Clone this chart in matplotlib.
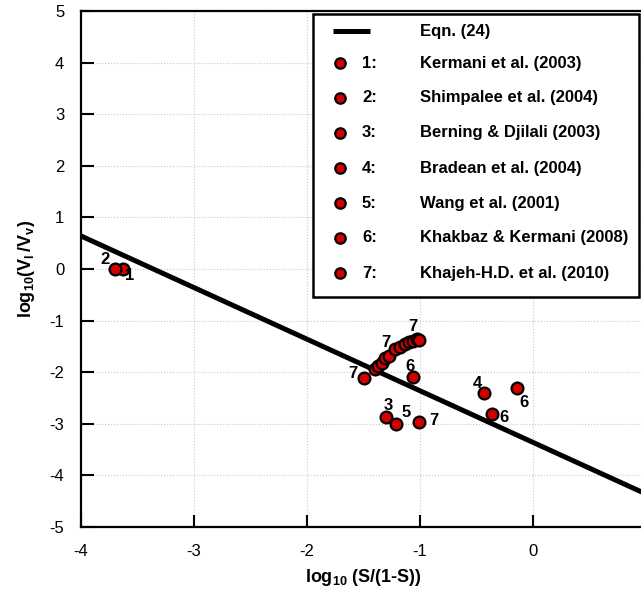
import matplotlib
matplotlib.use("Agg")
import matplotlib.pyplot as plt
from matplotlib.patches import Rectangle

plt.rcParams['font.family'] = ['Liberation Sans', 'DejaVu Sans']
plt.rcParams['mathtext.fontset'] = 'custom'
plt.rcParams['mathtext.rm'] = 'Liberation Sans'
plt.rcParams['mathtext.it'] = 'Liberation Sans:italic'
plt.rcParams['mathtext.bf'] = 'Liberation Sans:bold'
plt.rcParams['axes.unicode_minus'] = False

# Eqn. (24) line
eqn_x = [-4.0, 1.0]
eqn_y = [0.64, -4.36]

# data sets (log10(S/(1-S)), log10(Vl/Vv))
s1_x = [-3.63]
s1_y = [0.0]
s2_x = [-3.70]
s2_y = [0.0]
s3_x = [-1.30]
s3_y = [-2.87]
s4_x = [-0.43]
s4_y = [-2.40]
s5_x = [-1.21]
s5_y = [-3.00]
s6_x = [-1.06, -0.36, -0.14]
s6_y = [-2.09, -2.81, -2.31]
s7_x = [-1.50, -1.01, -1.40, -1.37, -1.34, -1.31, -1.27, -1.22, -1.18, -1.13, -1.10, -1.06, -1.03, -1.01]
s7_y = [-2.11, -2.96, -1.94, -1.88, -1.82, -1.72, -1.69, -1.55, -1.51, -1.45, -1.41, -1.39, -1.36, -1.38]

# number tags next to the points
tag_text = ['2', '1', '7', '7', '7', '6', '3', '5', '7', '4', '6', '6']
tag_x = [-3.79, -3.57, -1.59, -1.30, -1.06, -1.09, -1.28, -1.12, -0.88, -0.49, -0.08, -0.26]
tag_y = [0.19, -0.12, -2.03, -1.43, -1.12, -1.88, -2.64, -2.79, -2.93, -2.21, -2.58, -2.87]

legend_nums = ['1:', '2:', '3:', '4:', '5:', '6:', '7:']
legend_names = ['Kermani et al. (2003)', 'Shimpalee et al. (2004)', 'Berning & Djilali (2003)',
                'Bradean et al. (2004)', 'Wang et al. (2001)', 'Khakbaz & Kermani (2008)',
                'Khajeh-H.D. et al. (2010)']

red = '#d40000'

fig = plt.figure(figsize=(6.41, 5.92), dpi=100)
ax = fig.add_axes([81/641, 65/592, 565/641, 516/592])

ax.plot(eqn_x, eqn_y, color='black', lw=3.6, solid_capstyle='butt', zorder=3)

series = [(s1_x, s1_y), (s2_x, s2_y), (s3_x, s3_y), (s4_x, s4_y),
          (s5_x, s5_y), (s6_x, s6_y), (s7_x, s7_y)]
for sx, sy in series:
    ax.plot(sx, sy, 'o', ms=8.5, mfc=red, mec='black', mew=1.6, zorder=4)

for t, x, y in zip(tag_text, tag_x, tag_y):
    ax.text(x, y, t, fontsize=12, fontweight='bold', ha='center', va='center', zorder=5)

ax.set_xlim(-4, 1)
ax.set_ylim(-5, 5)
ax.set_xticks([-4, -3, -2, -1, 0])
ax.set_yticks(range(-5, 6))
ax.grid(True, color='#c8c8c8', ls=':', lw=0.8)
ax.set_axisbelow(True)
ax.tick_params(direction='in', length=9, width=1.5, labelsize=12, pad=12)
for s in ax.spines.values():
    s.set_linewidth(1.6)

ax.set_xlabel(r'$\mathbf{log_{10}}$ (S/(1-S))', fontsize=13, fontweight='bold', labelpad=6)
ax.set_ylabel(r'$\mathbf{log_{10}(V_l\,/V_v)}$', fontsize=13, labelpad=9)

# legend box drawn by hand
ax.add_patch(Rectangle((0.4106, 0.4457), 0.577, 0.5485, transform=ax.transAxes,
                       fill=True, fc='white', ec='black', lw=1.8, zorder=6))
ax.plot([0.446, 0.5115], [0.9612, 0.9612], color='black', lw=3.6,
        transform=ax.transAxes, zorder=7, solid_capstyle='butt')
ax.text(0.600, 0.9612, 'Eqn. (24)', transform=ax.transAxes, fontsize=12,
        fontweight='bold', va='center', zorder=7)
row_y = [0.8992, 0.8314, 0.7636, 0.6957, 0.6279, 0.5601, 0.4922]
for ry, n, name in zip(row_y, legend_nums, legend_names):
    ax.plot([0.4584], [ry], 'o', ms=7.5, mfc=red, mec='black', mew=1.6,
            transform=ax.transAxes, zorder=7, clip_on=False)
    ax.text(0.4973, ry, n, transform=ax.transAxes, fontsize=12, fontweight='bold',
            va='center', zorder=7)
    ax.text(0.600, ry, name, transform=ax.transAxes, fontsize=12, fontweight='bold',
            va='center', zorder=7)

fig.savefig('out.png', dpi=100)
